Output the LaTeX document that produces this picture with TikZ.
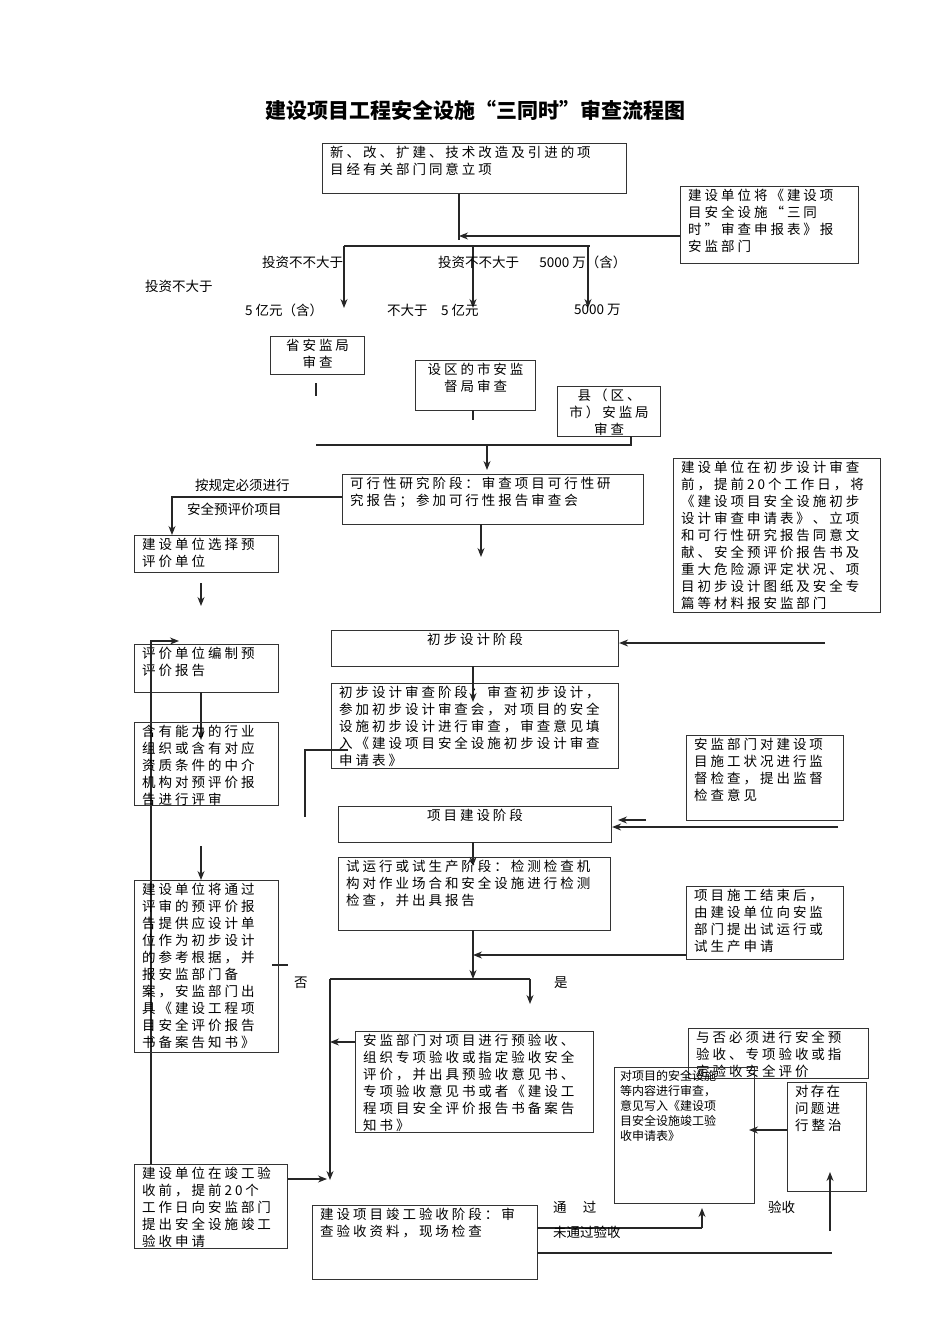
\documentclass[tikz,border=0pt]{standalone}
\usepackage{fontspec}
\setmainfont{Noto Sans CJK SC}
\newfontfamily\wdfont{Noto Sans CJK SC}[LetterSpace=22]
\usetikzlibrary{arrows.meta}
\tikzset{
 box/.style={draw=black!80,line width=1.1pt,rectangle,inner sep=0pt},
 txt/.style={inner sep=0pt,align=left,font=\wdfont\fontsize{13.5}{17}\selectfont},
 ctxt/.style={inner sep=0pt,align=center,font=\wdfont\fontsize{13.5}{17}\selectfont},
 lab/.style={inner sep=0pt,anchor=west,font=\fontsize{13.5}{16}\selectfont},
 ln/.style={line width=1.1pt,black!85},
 ar/.style={ln,-{Stealth[length=9pt,width=7pt]}}
}
\newcommand{\bx}[7][txt]{%
 \node[box,anchor=north west,minimum width=#5pt,minimum height=#6pt] (#2) at (#3,#4) {};
 \node[#1,anchor=north west] (#2t) at ([shift={(8pt,-3pt)}]#2.north west) {#7};}
\newcommand{\cbx}[6]{%
 \node[box,anchor=north west,minimum width=#4pt,minimum height=#5pt] (#1) at (#2,#3) {};
 \node[ctxt,anchor=north] (#1t) at ([yshift=-3pt]#1.north) {#6};}
\begin{document}
\begin{tikzpicture}[x=1pt,y=-1pt]
\useasboundingbox (0,0) rectangle (950,1344);
\node[font=\bfseries\fontsize{21}{24}\selectfont] (title) at (475,110) {建设项目工程安全设施“三同时”审查流程图};
% top
\bx{top}{322}{143}{304}{50}{新、改、扩建、技术改造及引进的项\\目经有关部门同意立项}
\bx{r1}{680}{186}{178}{77}{建设单位将《建设项\\目安全设施“三同\\时”审查申报表》报\\安监部门}
\draw[ln] (top.south -| 459,0) -- (459,240);
\draw[ar] (r1.west |- 0,236) -- (459,236);
\draw[ln] (344,246) -- (590,246);
\draw[ar] (344,246) -- (344,308);
\draw[ar] (473,246) -- (473,308);
\draw[ar] (588,246) -- (588,308);
\node[lab] (l1) at (262,262) {投资不不大于};
\node[lab] (l2) at (438,262) {投资不不大于\hspace{1.5em}5000 万（含）};
\node[lab] (l3) at (145,286) {投资不大于};
\node[lab] (l4) at (245,310) {5 亿元（含）};
\node[lab] (l5) at (387,310) {不大于\hspace{1em}5 亿元};
\node[lab] (l6) at (574,310) {5000 万};
\cbx{sheng}{270}{336}{94}{38}{省安监局\\审查}
\cbx{shi}{415}{360}{120}{50}{设区的市安监\\督局审查}
\cbx{xian}{557}{386}{103}{50}{县（区、\\市）安监局\\审查}
\draw[ln] (316,383) -- (316,396);
\draw[ln] (473,410) -- (473,420);
\draw[ln] (631,436) -- (631,445) -- (316,445);
\draw[ar] (487,445) -- (487,470);
% feasibility
\bx{kx}{342}{474}{301}{50}{可行性研究阶段：审查项目可行性研\\究报告；参加可行性报告审查会}
\bx{r2}{673}{458}{207}{154}{建设单位在初步设计审查\\前，提前20个工作日，将\\《建设项目安全设施初步\\设计审查申请表》、立项\\和可行性研究报告同意文\\献、安全预评价报告书及\\重大危险源评定状况、项\\目初步设计图纸及安全专\\篇等材料报安监部门}
\draw[ar] (kx.west |- 0,497) -- (172,497) -- (172,535);
\node[lab] (l7) at (195,485) {按规定必须进行};
\node[lab] (l8) at (187,509) {安全预评价项目};
\draw[ar] (481,524) -- (481,557);
\bx{xz}{134}{535}{144}{37}{建设单位选择预\\评价单位}
\draw[ar] (201,583) -- (201,606);
\cbx{cb}{331}{630}{287}{36}{初步设计阶段}
\draw[ar] (825,643) -- (cb.east |- 0,643);
\bx{bz}{134}{644}{144}{48}{评价单位编制预\\评价报告}
\draw[ar] (151,1165) -- (151,641) -- (179,641);
\draw[ar] (201,692) -- (201,740);
\bx{hy}{134}{722}{144}{83}{含有能力的行业\\组织或含有对应\\资质条件的中介\\机构对预评价报\\告进行评审}
\bx{cbs}{331}{683}{287}{85}{初步设计审查阶段：审查初步设计，\\参加初步设计审查会，对项目的安全\\设施初步设计进行审查，审查意见填\\入《建设项目安全设施初步设计审查\\申请表》}
\draw[ar] (473,666) -- (473,702);
\draw[ln] (348,750) -- (305,750) -- (305,817);
\bx{jd}{686}{735}{157}{85}{安监部门对建设项\\目施工状况进行监\\督检查，提出监督\\检查意见}
\cbx{js}{338}{806}{273}{36}{项目建设阶段}
\draw[ar] (646,820) -- (618,820);
\draw[ar] (838,827) -- (js.east |- 0,827);
\draw[ar] (473,842) -- (473,866);
\draw[ar] (201,846) -- (201,880);
\bx{sy}{338}{857}{272}{73}{试运行或试生产阶段：检测检查机\\构对作业场合和安全设施进行检测\\检查，并出具报告}
\bx{sg}{686}{886}{157}{73}{项目施工结束后，\\由建设单位向安监\\部门提出试运行或\\试生产申请}
\draw[ar] (sg.west |- 0,955) -- (473,955);
\draw[ar] (473,930) -- (473,979);
\draw[ln] (330,979) -- (530,979);
\draw[ar] (530,979) -- (530,1004);
\draw[ar] (330,979) -- (330,1180);
\node[lab] (shi2) at (554,983) {是};
\node[lab] (fou) at (294,983) {否};
\draw[ln] (272,965) -- (288,965);
\bx{tg}{134}{880}{144}{172}{建设单位将通过\\评审的预评价报\\告提供应设计单\\位作为初步设计\\的参考根据，并\\报安监部门备\\案，安监部门出\\具《建设工程项\\目安全评价报告\\书备案告知书》}
\bx{yys}{355}{1031}{238}{101}{安监部门对项目进行预验收、\\组织专项验收或指定验收安全\\评价，并出具预验收意见书、\\专项验收意见书或者《建设工\\程项目安全评价报告书备案告\\知书》}
\draw[ar] (yys.west |- 0,1042) -- (330,1042);
\bx{jg}{134}{1164}{153}{84}{建设单位在竣工验\\收前，提前20个\\工作日向安监部门\\提出安全设施竣工\\验收申请}
\draw[ar] (jg.east |- 0,1179) -- (327,1179);
\bx{ys}{312}{1205}{225}{74}{建设项目竣工验收阶段：审\\查验收资料，现场检查}
\bx{yf}{688}{1028}{180}{50}{与否必须进行安全预\\验收、专项验收或指\\定验收安全评价}
\node[box,anchor=north west,minimum width=140pt,minimum height=136pt] (dx) at (614,1067) {};
\node[inner sep=0pt,align=left,anchor=north west,font=\fontsize{12}{15}\selectfont] (dxt) at (620,1070) {对项目的安全设施\\等内容进行审查，\\意见写入《建设项\\目安全设施竣工验\\收申请表》};
\bx{zz}{787}{1082}{79}{109}{对\,存\,在\\问\,题\,进\\行整治}
\draw[ar] (zz.west |- 0,1130) -- (749,1130);
\draw[ln] (537,1228) -- (702,1228);
\draw[ar] (702,1228) -- (702,1208);
\draw[ar] (830,1231) -- (830,1172);
\draw[ln] (537,1253) -- (832,1253);
\node[lab] (tg1) at (553,1207) {通\hspace{1.2em}过};
\node[lab] (tg2) at (768,1207) {验收};
\node[lab] (tg3) at (553,1232) {未通过验收};
\end{tikzpicture}
\end{document}
